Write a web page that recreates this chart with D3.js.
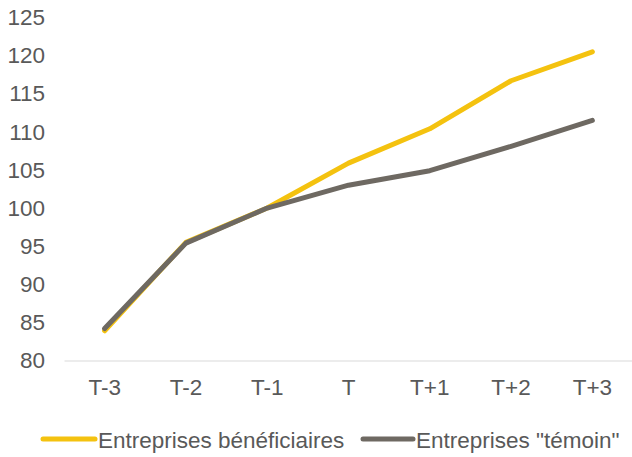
<!DOCTYPE html>
<html>
<head>
<meta charset="utf-8">
<script src="https://cdn.jsdelivr.net/npm/d3@7"></script>
<style>
  html, body { margin: 0; padding: 0; background: #fff; }
  text { font-family: "Liberation Sans", Arial, sans-serif; fill: #595959; }
</style>
</head>
<body>
<svg id="chart" width="632" height="457"></svg>
<script>
// Periods around the year of support
const periods = ["T-3", "T-2", "T-1", "T", "T+1", "T+2", "T+3"];
// Index (T-1 = 100)
const beneficiaires = [83.9, 95.5, 100, 105.9, 110.4, 116.7, 120.5];
const temoin = [84.2, 95.4, 100, 103.0, 104.9, 108.1, 111.5];
const yTicks = [80, 85, 90, 95, 100, 105, 110, 115, 120, 125];
const seriesNames = ["Entreprises bénéficiaires", "Entreprises \"témoin\""];
const seriesColors = ["#F4C20F", "#6E6962"];

const fontSize = "22.5px";
const svg = d3.select("#chart");

const x = d3.scaleBand().domain(periods).range([64, 633]);
const y = d3.scaleLinear().domain([80, 125]).range([360.5, 17.5]);

// Y axis labels (no line, no ticks)
const yAxis = svg.append("g")
  .attr("transform", "translate(45,0)")
  .call(d3.axisLeft(y).tickValues(yTicks).tickSize(0).tickPadding(0));
yAxis.select(".domain").remove();
yAxis.selectAll("text")
  .style("font-size", fontSize)
  .attr("fill", "#595959");

// X axis: baseline + labels
const xAxis = svg.append("g")
  .attr("transform", `translate(0,${y(80)})`)
  .call(d3.axisBottom(x).tickSize(0).tickPadding(19));
xAxis.select(".domain").attr("stroke", "#d9d9d9").attr("stroke-width", 1.2);
xAxis.selectAll("text").style("font-size", fontSize).attr("fill", "#595959");

const line = d3.line()
  .x((d, i) => x(periods[i]) + x.bandwidth() / 2)
  .y(d => y(d));

[beneficiaires, temoin].forEach((vals, k) => {
  svg.append("path")
    .datum(vals)
    .attr("fill", "none")
    .attr("stroke", seriesColors[k])
    .attr("stroke-width", 5)
    .attr("stroke-linejoin", "round")
    .attr("stroke-linecap", "round")
    .attr("d", line);
});

// Legend
const legendItems = [
  { x1: 43, x2: 95, tx: 98 },
  { x1: 363, x2: 413, tx: 416 }
];
legendItems.forEach((it, k) => {
  svg.append("line")
    .attr("x1", it.x1).attr("x2", it.x2)
    .attr("y1", 439).attr("y2", 439)
    .attr("stroke", seriesColors[k])
    .attr("stroke-width", 5)
    .attr("stroke-linecap", "round");
  svg.append("text")
    .attr("x", it.tx).attr("y", 447.5)
    .style("font-size", fontSize)
    .text(seriesNames[k]);
});
</script>
</body>
</html>
